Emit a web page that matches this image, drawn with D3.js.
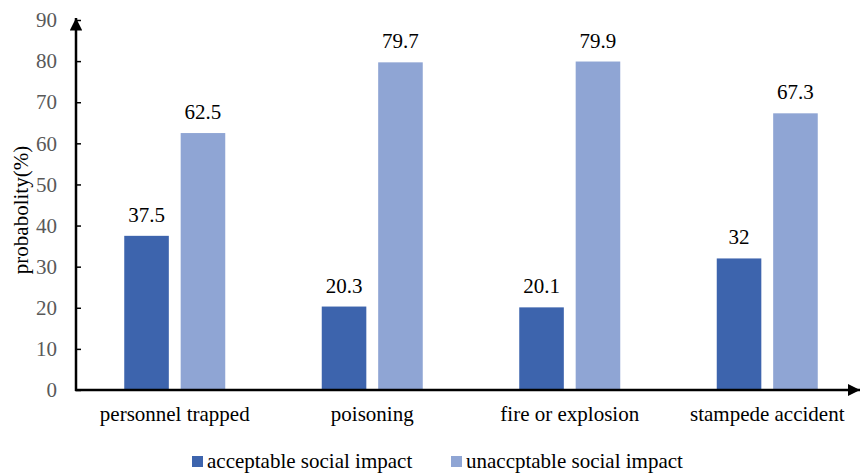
<!DOCTYPE html>
<html>
<head>
<meta charset="utf-8">
<script src="https://cdn.jsdelivr.net/npm/d3@7"></script>
<style>
  html, body { margin: 0; padding: 0; background: #fff; }
  svg { display: block; }
  svg text { font-family: "Liberation Serif", "Times New Roman", "DejaVu Serif", serif; }
</style>
</head>
<body>
<svg id="chart" width="862" height="474"></svg>
<script>
// Accident types and the two impact series (probability, %)
const categories = ["personnel trapped", "poisoning", "fire or explosion", "stampede accident"];
const seriesNames = ["acceptable social impact", "unaccptable social impact"];
const acceptable = [37.5, 20.3, 20.1, 32];
const unacceptable = [62.5, 79.7, 79.9, 67.3];
const yTicks = [0, 10, 20, 30, 40, 50, 60, 70, 80, 90];
const colors = ["#3D64AD", "#8FA5D4"];
const FONT = "Liberation Serif, Times New Roman, DejaVu Serif, serif";
const FS = 21;

const svg = d3.select("#chart");
const x0 = 76, x1 = 866, y0 = 390, yTop = 20;

const x = d3.scaleBand().domain(categories).range([x0, x1]).paddingInner(0).paddingOuter(0);
const inner = d3.scaleBand().domain(seriesNames)
  .range([x.bandwidth() / 2 - 50.5, x.bandwidth() / 2 + 50.5])
  .paddingInner(0.21).paddingOuter(0);
const y = d3.scaleLinear().domain([0, 90]).range([y0, yTop]);

const rows = categories.map((c, i) => ({ cat: c, vals: [acceptable[i], unacceptable[i]] }));

// bars
const groups = svg.append("g").selectAll("g").data(rows).join("g")
  .attr("transform", d => `translate(${x(d.cat)},0)`);
groups.selectAll("rect").data(d => d.vals.map((v, k) => ({ v, k })))
  .join("rect")
  .attr("x", d => inner(seriesNames[d.k]))
  .attr("width", inner.bandwidth())
  .attr("y", d => y(d.v))
  .attr("height", d => y0 - y(d.v))
  .attr("fill", d => colors[d.k]);

// value labels
groups.selectAll("text").data(d => d.vals.map((v, k) => ({ v, k })))
  .join("text")
  .attr("x", d => inner(seriesNames[d.k]) + inner.bandwidth() / 2)
  .attr("y", d => y(d.v) - 14)
  .attr("text-anchor", "middle")
  .attr("font-family", FONT)
  .attr("font-size", FS)
  .attr("fill", "#000")
  .text(d => d.v);

// y axis with inward ticks
const yAxis = d3.axisLeft(y).tickValues(yTicks).tickSize(-5).tickPadding(19);
const yg = svg.append("g").attr("transform", `translate(${x0},0)`).call(yAxis)
  .attr("font-family", FONT);
yg.select(".domain").remove();
yg.selectAll(".tick line").attr("stroke", "#000").attr("stroke-width", 1.5);
yg.selectAll(".tick text").attr("font-size", FS).attr("fill", "#595959")
  .attr("font-family", FONT);

// arrowheads
const defs = svg.append("defs");
defs.append("marker").attr("id", "arrow").attr("viewBox", "0 0 10 10")
  .attr("refX", 10).attr("refY", 5).attr("markerWidth", 5).attr("markerHeight", 5)
  .attr("markerUnits", "strokeWidth").attr("orient", "auto")
  .append("path").attr("d", "M0,0 L10,5 L0,10 Z").attr("fill", "#000");

svg.append("line").attr("x1", x0).attr("x2", x0).attr("y1", y0 + 1).attr("y2", yTop - 2)
  .attr("stroke", "#000").attr("stroke-width", 2.5).attr("marker-end", "url(#arrow)");
svg.append("line").attr("x1", x0 - 1).attr("x2", 860).attr("y1", y0).attr("y2", y0)
  .attr("stroke", "#000").attr("stroke-width", 2.5).attr("marker-end", "url(#arrow)");

// category labels
svg.append("g").selectAll("text").data(categories).join("text")
  .attr("x", d => x(d) + x.bandwidth() / 2)
  .attr("y", 421)
  .attr("text-anchor", "middle")
  .attr("font-family", FONT)
  .attr("font-size", FS)
  .attr("fill", "#000")
  .text(d => d);

// y axis title
svg.append("text")
  .attr("transform", "translate(28,210) rotate(-90)")
  .attr("text-anchor", "middle")
  .attr("font-family", FONT)
  .attr("font-size", FS)
  .attr("fill", "#000")
  .text("probabolity(%)");

// legend
const legendX = [192, 451];
const lg = svg.append("g").selectAll("g").data(seriesNames).join("g")
  .attr("transform", (d, i) => `translate(${legendX[i]},456)`);
lg.append("rect").attr("width", 11).attr("height", 11).attr("fill", (d, i) => colors[i]);
lg.append("text").attr("x", 15).attr("y", 12).attr("font-family", FONT)
  .attr("font-size", FS).attr("fill", "#000").text(d => d);
</script>
</body>
</html>
